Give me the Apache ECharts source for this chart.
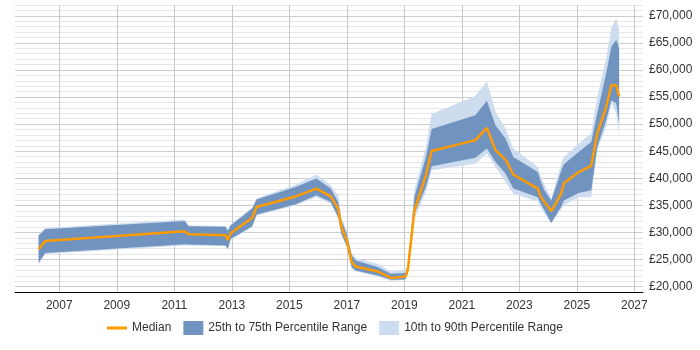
<!DOCTYPE html>
<html>
<head>
<meta charset="utf-8">
<script src="https://cdn.jsdelivr.net/npm/echarts@6/dist/echarts.min.js"></script>
<style>
  html, body { margin: 0; padding: 0; background: #fff; }
  #chart { width: 700px; height: 350px; }
</style>
</head>
<body>
<div id="chart"></div>
<script>
// decimal year for every sample
const years = [2006.28, 2006.51, 2011.36, 2011.50, 2012.78, 2012.86, 2012.96, 2013.71, 2013.86, 2015.22,
  2015.94, 2016.44, 2016.70, 2016.81, 2017.00, 2017.17, 2017.31, 2018.07, 2018.53, 2019.03,
  2019.12, 2019.35, 2019.75, 2019.95, 2021.47, 2021.87, 2022.17, 2022.52, 2022.79, 2023.64,
  2023.74, 2023.87, 2024.11, 2024.34, 2024.46, 2024.55, 2025.06, 2025.50, 2025.71, 2026.02,
  2026.20, 2026.37, 2026.47]
const p10 = [24000, 26000, 27600, 27600, 27500, 26800, 28600, 31000, 33100, 35000,
  36500, 35300, 32600, 29500, 27300, 23300, 22800, 21900, 21100, 21200,
  22200, 32500, 37450, 41500, 42700, 44550, 42100, 39300, 37150, 35700,
  34700, 33500, 31700, 33300, 34300, 35000, 36500, 36500, 45200, 49500,
  53800, 52000, 47700]
const p25 = [24400, 26200, 27800, 27750, 27600, 27000, 28800, 31150, 33300, 35200,
  36850, 35600, 32800, 29750, 27500, 23550, 22950, 22050, 21250, 21300,
  22400, 33450, 38400, 42200, 43800, 45500, 43000, 40850, 38100, 36500,
  35300, 34100, 31750, 33800, 34800, 35900, 37300, 37800, 45800, 50700,
  54400, 53800, 50100]
const median = [26900, 28400, 30200, 29650, 29500, 28600, 29850, 32700, 34700, 36650,
  38100, 36650, 34400, 31000, 28500, 24500, 23700, 22800, 21600, 21850,
  23000, 34050, 40550, 45050, 47050, 49300, 45200, 43450, 40700, 38100,
  36650, 35600, 33950, 36050, 37300, 39100, 41150, 42300, 48300, 53200,
  57200, 57200, 55100]
const p75 = [29400, 30600, 32100, 31150, 31050, 30300, 31300, 34400, 36100, 38400,
  39950, 38100, 35600, 32200, 29700, 25750, 24800, 23600, 22350, 22500,
  23700, 36550, 43950, 49100, 51650, 54300, 49800, 47350, 43950, 41150,
  39500, 37800, 35900, 39500, 41500, 42600, 44850, 46700, 52000, 59400,
  64300, 65600, 64000]
const p90 = [29700, 30800, 32400, 31300, 31200, 30500, 31500, 34600, 36300, 38800,
  40700, 38700, 36800, 32800, 30200, 26200, 25300, 24200, 22800, 23000,
  24200, 37800, 45800, 51850, 55200, 57850, 52300, 49200, 45500, 42100,
  40500, 38800, 36300, 40500, 42800, 43950, 46400, 48300, 55000, 62200,
  67700, 69600, 67400]
const yearTicks = [2007, 2009, 2011, 2013, 2015, 2017, 2019, 2021, 2023, 2025, 2027]

const DARK = '#7094bf'
const LIGHT = '#cddcee'
const ORANGE = '#ff9a00'
const FONT = 'Arial, "Liberation Sans", sans-serif'

// one polygon per band, built from the lower and upper percentile arrays
const band = (name, lo, hi, color, z) => ({
  name,
  type: 'custom',
  silent: true,
  z,
  itemStyle: { color },
  data: years.map((y, i) => [y, lo[i], hi[i]]),
  encode: { x: 0, y: [1, 2] },
  renderItem: (params, api) => {
    if (params.dataIndex !== 0) return null
    const top = years.map((y, i) => api.coord([y, hi[i]]))
    const bottom = years.map((y, i) => api.coord([y, lo[i]])).reverse()
    return {
      type: 'polygon',
      shape: { points: top.concat(bottom) },
      style: { fill: color }
    }
  }
})

const chart = echarts.init(document.getElementById('chart'))
chart.setOption({
  animation: false,
  textStyle: { fontFamily: FONT },
  grid: { left: 15, right: 57, top: 5, bottom: 58 },
  legend: {
    bottom: 10,
    left: 102,
    itemWidth: 20,
    itemHeight: 14,
    itemGap: 12,
    textStyle: { color: '#333', fontSize: 12, fontFamily: FONT },
    data: [
      { name: 'Median', icon: 'path://M0,0 L20,0 L20,3 L0,3 Z', itemStyle: { color: ORANGE } },
      { name: '25th to 75th Percentile Range', icon: 'rect', itemStyle: { color: DARK } },
      { name: '10th to 90th Percentile Range', icon: 'rect', itemStyle: { color: LIGHT } }
    ]
  },
  xAxis: {
    type: 'value',
    min: 2005.46,
    max: 2027.3,
    axisLine: { lineStyle: { color: '#000', width: 1 } },
    axisTick: { show: false, customValues: yearTicks },
    axisLabel: { customValues: yearTicks, color: '#333', fontSize: 12, margin: 8, formatter: v => String(v) },
    splitLine: { show: true, lineStyle: { color: '#c8c8c8' } }
  },
  yAxis: {
    type: 'value',
    position: 'right',
    min: 19000,
    max: 72000,
    interval: 1000,
    axisLine: { show: false },
    axisTick: { show: false },
    axisLabel: {
      color: '#333',
      fontSize: 12,
      margin: 6,
      formatter: v => v % 5000 === 0 ? '£' + v.toLocaleString('en-GB') : ''
    },
    splitLine: {
      lineStyle: { color: ['#e6e6e6', '#cccccc', '#e6e6e6', '#e6e6e6', '#e6e6e6'] }
    }
  },
  series: [
    band('10th to 90th Percentile Range', p10, p90, LIGHT, 2),
    band('25th to 75th Percentile Range', p25, p75, DARK, 3),
    {
      name: 'Median',
      type: 'line',
      data: years.map((y, i) => [y, median[i]]),
      symbol: 'none',
      lineStyle: { color: ORANGE, width: 2.5 },
      itemStyle: { color: ORANGE },
      z: 5
    }
  ]
})
</script>
</body>
</html>
